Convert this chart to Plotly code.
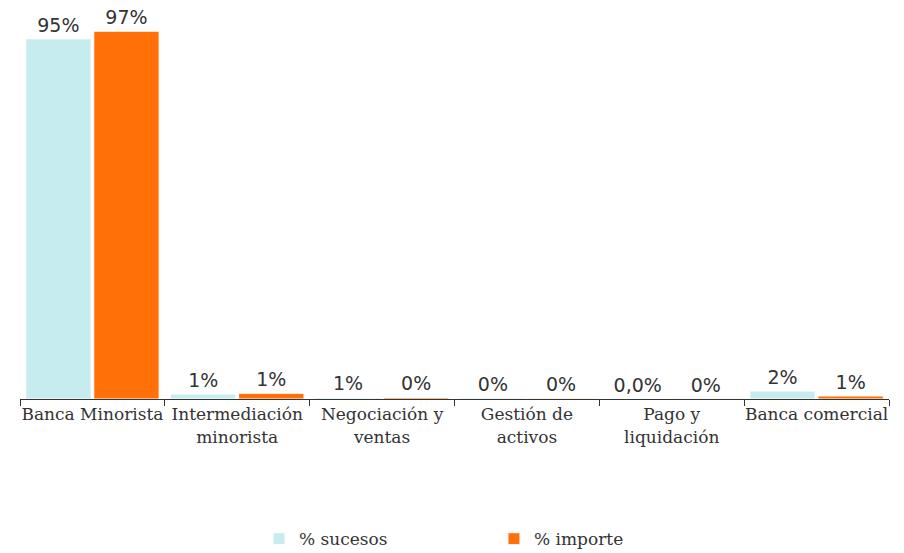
import plotly.graph_objects as go

categories = ["Banca Minorista", "Intermediación<br>minorista", "Negociación y<br>ventas",
              "Gestión de<br>activos", "Pago y<br>liquidación", "Banca comercial"]
sucesos = [95.0, 1.3, 0.4, 0.3, 0.05, 2.1]
importe = [97.0, 1.5, 0.4, 0.2, 0.05, 0.8]
sucesos_labels = ["95%", "1%", "1%", "0%", "0,0%", "2%"]
importe_labels = ["97%", "1%", "0%", "0%", "0%", "1%"]

fig = go.Figure()
fig.add_trace(go.Bar(
    x=categories, y=sucesos, name="% sucesos", text=sucesos_labels,
    textposition="outside", cliponaxis=False,
    marker=dict(color="#C6ECEF", line=dict(color="#FFFFFF", width=1)),
    textfont=dict(family="DejaVu Sans", size=19, color="#333333"),
))
fig.add_trace(go.Bar(
    x=categories, y=importe, name="% importe", text=importe_labels,
    textposition="outside", cliponaxis=False,
    marker=dict(color="#FF7008", line=dict(color="#FFFFFF", width=1)),
    textfont=dict(family="DejaVu Sans", size=19, color="#333333"),
))
fig.update_layout(
    width=904, height=553,
    margin=dict(l=20, r=15, t=10, b=154, autoexpand=False),
    paper_bgcolor="white", plot_bgcolor="white",
    barmode="group", bargap=0.06, bargroupgap=0.04,
    font=dict(family="DejaVu Serif", size=17, color="#333333"),
    showlegend=True,
    legend=dict(orientation="h", x=0.275, xanchor="left", y=-0.314, yanchor="top",
                font=dict(family="DejaVu Serif", size=17, color="#333333"),
                entrywidth=190, entrywidthmode="pixels", itemwidth=30),
    xaxis=dict(showline=True, linecolor="#333333", linewidth=1, ticks="outside",
               tickson="boundaries", ticklen=6, tickcolor="#333333", automargin=False,
               tickangle=0,
               tickfont=dict(family="DejaVu Serif", size=17, color="#333333")),
    yaxis=dict(range=[0, 102.6], visible=False, showgrid=False, zeroline=False,
               automargin=False),
)
fig.write_html("out.html", config={"displayModeBar": False},
               post_script="document.body.style.margin='0px';document.body.style.overflow='hidden';")
